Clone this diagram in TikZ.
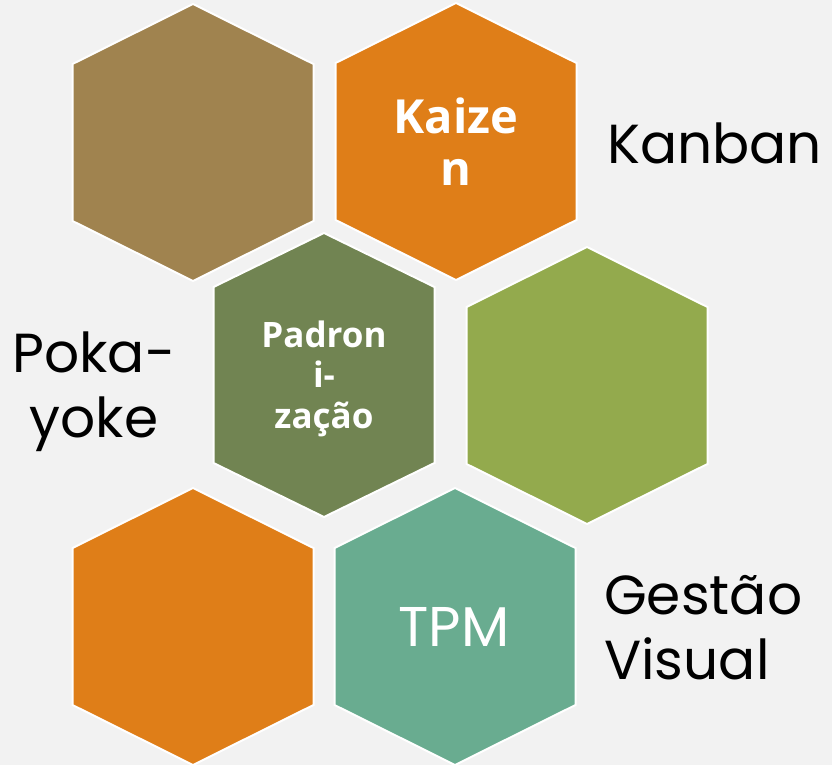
\documentclass[tikz,border=0pt]{standalone}
\usepackage{fontspec}
\setmainfont{Poppins}
\newfontfamily\grassans{Open Sans}
\usetikzlibrary{positioning}
\definecolor{fond}{HTML}{F2F2F2}
\definecolor{brun}{HTML}{A0834F}
\definecolor{hexorange}{HTML}{DF7E18}
\definecolor{vertfonce}{HTML}{718452}
\definecolor{vertclair}{HTML}{93AA4D}
\definecolor{sarcelle}{HTML}{69AC90}
\tikzstyle{hexa}=[draw=white,line width=2pt,line join=miter]
\tikzstyle{dehors}=[text=black,inner sep=0pt,font=\fontsize{55}{65}\selectfont]
\tikzstyle{dedans}=[text=white,inner sep=0pt,align=center]
% centre, demi-largeur, demi-cote, pente, couleur
\newcommand{\hexa}[5]{\filldraw[hexa,fill=#5] (#1) ++(0,-#3-#4) -- ++(#2,#4) -- ++(0,2*#3) -- ++(-#2,#4) -- ++(-#2,-#4) -- ++(0,-2*#3) -- cycle;}
\begin{document}
\begin{tikzpicture}[x=1pt,y=-1pt]
\fill[fond] (0,0) rectangle (832,765);
\useasboundingbox (0,0) rectangle (832,765);
\coordinate (h1) at (193,142.5);
\coordinate (h2) at (456,141.5);
\coordinate (h3) at (324,375);
\coordinate (h4) at (587,385.5);
\coordinate (h5) at (193,626.5);
\coordinate (h6) at (455,626.5);
\hexa{h1}{120.5}{78.5}{60}{brun}
\hexa{h2}{120.5}{78.5}{60}{hexorange}
\hexa{h3}{110.5}{88}{54}{vertfonce}
\hexa{h4}{120.5}{78.5}{60}{vertclair}
\hexa{h5}{120.5}{78.5}{60}{hexorange}
\hexa{h6}{120.5}{78.5}{60}{sarcelle}
%textes
\node[dedans,anchor=base,font=\grassans\bfseries\fontsize{47}{52}\selectfont] (kaizen) at (456,185) {Kaize\\n};
\node[dedans,anchor=base,font=\grassans\bfseries\fontsize{35}{40.5}\selectfont] (padron) at (324,428) {Padron\\i-\\zação};
\node[dedans,anchor=base,font=\fontsize{56}{60}\selectfont] (tpm) at (454,646) {TPM};
\node[dehors,anchor=base west] (kanban) at (607,163) {Kanban};
\node[dehors,anchor=base,align=center] (pokayoke) at (94,437) {Poka-\\yoke};
\node[dehors,anchor=base west,align=left] (gestao) at (604,679) {Gestão\\Visual};
\end{tikzpicture}
\end{document}
